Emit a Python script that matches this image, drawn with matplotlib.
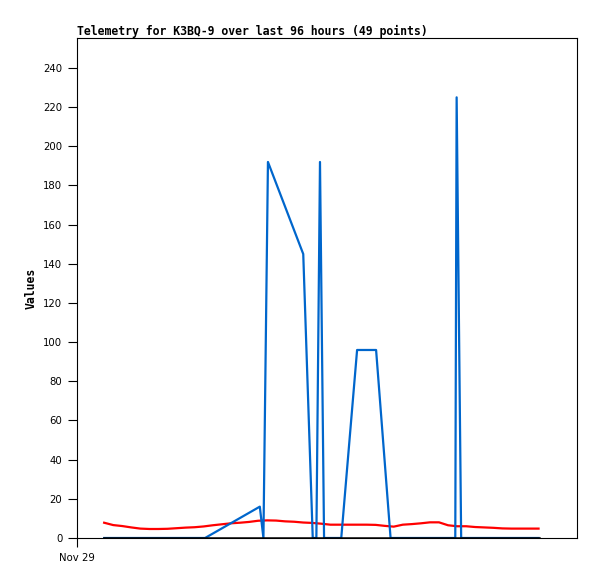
import matplotlib
matplotlib.use("Agg")
import matplotlib.pyplot as plt
import numpy as np

# time in hours since Nov 29 00:00
red_hours = [6 + 2 * i for i in range(49)]
red_values = [7.8, 6.6, 6.1, 5.4, 4.8, 4.6, 4.6, 4.7, 5.0, 5.3,
              5.5, 5.9, 6.5, 7.0, 7.5, 7.8, 8.2, 8.8, 9.0, 8.9,
              8.5, 8.3, 7.9, 7.7, 7.3, 6.8, 6.8, 6.8, 6.8, 6.8,
              6.7, 6.2, 5.8, 6.8, 7.1, 7.5, 8.0, 8.0, 6.5, 6.0,
              6.0, 5.6, 5.4, 5.2, 4.9, 4.8, 4.8, 4.8, 4.8]
black_values = [0] * 49

blue_hours = [6.0, 28.3, 40.4, 41.2, 42.2, 50.0, 52.1, 52.9, 53.7, 54.6,
              58.4, 61.9, 66.1, 69.3, 83.6, 83.9, 84.9, 102.0]
blue_values = [0, 0, 16, 0, 192, 145, 0, 0, 192, 0,
               0, 96, 96, 0, 0, 225, 0, 0]

x_ticks = [0]
x_tick_labels = ["Nov 29"]
y_ticks = list(range(0, 241, 20))

fig = plt.figure(figsize=(5.97, 5.79), dpi=100)
ax = fig.add_axes([77/597, 41/579, 500/597, 500/579])

ax.plot(red_hours, red_values, color="#ff0000", lw=1.6, zorder=2)
ax.plot(blue_hours, blue_values, color="#0066cc", lw=1.6, zorder=3)
ax.plot(red_hours, black_values, color="#000000", lw=1.8, zorder=4)

ax.set_xlim(0, 110.5)
ax.set_ylim(0, 255.3)
ax.set_yticks(y_ticks)
ax.set_yticklabels([str(v) for v in y_ticks], fontsize=7.3, family="DejaVu Sans")
ax.set_xticks(x_ticks)
ax.set_xticklabels(x_tick_labels, fontsize=7.3, family="DejaVu Sans")
ax.tick_params(axis="both", direction="out", length=6.5, width=0.8, pad=4, color="black")

for s in ax.spines.values():
    s.set_linewidth(0.8)
    s.set_color("black")

ax.set_ylabel("Values", fontsize=8.3, family="DejaVu Sans Mono", fontweight="bold", labelpad=4)
fig.text(77/597, 1 - 35/579, "Telemetry for K3BQ-9 over last 96 hours (49 points)",
         ha="left", va="baseline",
         fontsize=8.3, family="DejaVu Sans Mono", fontweight="bold")

fig.savefig("out.png", dpi=100)
